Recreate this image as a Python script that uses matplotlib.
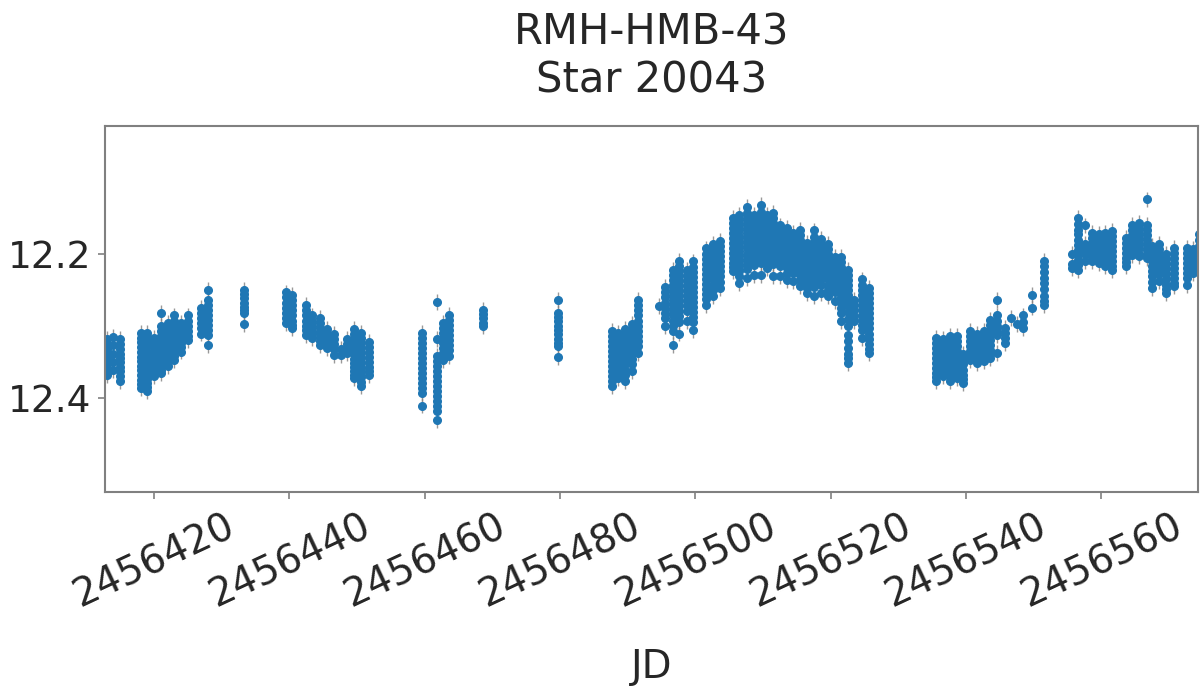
import matplotlib.pyplot as plt
import matplotlib.ticker as mticker
import numpy as np

# nightly photometry, one JD per night and the magnitudes taken that night
night_jd = [
    2456413.0, 2456414.0, 2456415.0, 2456418.0, 2456419.0, 2456420.0, 2456421.0,
    2456422.0, 2456423.0, 2456424.0, 2456425.0, 2456427.0, 2456428.0, 2456433.3,
    2456439.5, 2456440.4, 2456442.5, 2456443.4, 2456444.5, 2456445.6, 2456446.6,
    2456447.6, 2456448.5, 2456449.6, 2456450.6, 2456451.8,
    2456459.6, 2456461.8, 2456462.7, 2456463.6, 2456468.6, 2456479.7,
    2456487.7, 2456488.6, 2456489.6, 2456490.7, 2456491.6, 2456494.7, 2456495.5,
    2456496.7, 2456497.6, 2456498.7, 2456499.7, 2456501.6, 2456502.6, 2456503.7,
    2456505.6, 2456506.5, 2456507.7, 2456508.6, 2456509.7, 2456510.6, 2456511.5,
    2456512.5, 2456513.6, 2456514.5, 2456515.5, 2456516.5, 2456517.6, 2456518.6,
    2456519.6, 2456520.7, 2456521.6, 2456522.5, 2456523.5, 2456524.7, 2456525.6,
    2456535.6, 2456536.6, 2456537.7, 2456538.7, 2456539.6, 2456540.6, 2456541.7,
    2456542.6, 2456543.6, 2456544.6, 2456545.7, 2456546.6, 2456547.6, 2456548.5,
    2456549.7, 2456551.6, 2456555.6, 2456556.6, 2456557.6, 2456558.7, 2456559.6,
    2456560.6, 2456561.6, 2456563.6, 2456564.6, 2456565.6, 2456566.7, 2456567.5,
    2456568.6, 2456569.6, 2456570.7, 2456572.6, 2456573.6, 2456574.4,
]

night_mag = [
    [12.318, 12.324, 12.331, 12.336, 12.342, 12.347, 12.352, 12.358, 12.363, 12.368],
    [12.315, 12.326, 12.338, 12.349, 12.361],
    [12.318, 12.325, 12.331, 12.338, 12.344, 12.350, 12.356, 12.362, 12.369, 12.376],
    [12.309, 12.316, 12.322, 12.329, 12.335, 12.342, 12.348, 12.355, 12.361, 12.367, 12.374, 12.380, 12.386],
    [12.309, 12.315, 12.322, 12.328, 12.335, 12.341, 12.347, 12.354, 12.360, 12.367, 12.373, 12.379, 12.384, 12.390],
    [12.316, 12.323, 12.329, 12.336, 12.342, 12.349, 12.355, 12.362, 12.369],
    [12.281, 12.299, 12.306, 12.313, 12.320, 12.327, 12.334, 12.341, 12.348, 12.355, 12.360, 12.365],
    [12.295, 12.302, 12.309, 12.316, 12.323, 12.330, 12.337, 12.344, 12.350, 12.355],
    [12.285, 12.292, 12.299, 12.306, 12.313, 12.320, 12.327, 12.334, 12.341, 12.347],
    [12.295, 12.302, 12.309, 12.316, 12.323, 12.329, 12.335],
    [12.285, 12.292, 12.299, 12.306, 12.313, 12.319],
    [12.274, 12.281, 12.288, 12.295, 12.302, 12.310],
    [12.249, 12.263, 12.270, 12.277, 12.284, 12.291, 12.298, 12.305, 12.312, 12.326],
    [12.249, 12.255, 12.261, 12.267, 12.273, 12.278, 12.282, 12.297],
    [12.253, 12.260, 12.267, 12.274, 12.281, 12.288, 12.296],
    [12.257, 12.264, 12.271, 12.278, 12.285, 12.292, 12.298, 12.303],
    [12.271, 12.278, 12.285, 12.292, 12.299, 12.305, 12.312],
    [12.285, 12.292, 12.299, 12.306, 12.311, 12.316],
    [12.288, 12.295, 12.302, 12.309, 12.315, 12.321, 12.326],
    [12.304, 12.311, 12.318, 12.324, 12.330],
    [12.311, 12.318, 12.325, 12.332, 12.340],
    [12.332, 12.340],
    [12.318, 12.324, 12.331, 12.337],
    [12.304, 12.311, 12.318, 12.325, 12.332, 12.339, 12.345, 12.351, 12.357, 12.362, 12.367, 12.372],
    [12.309, 12.316, 12.323, 12.330, 12.337, 12.344, 12.351, 12.358, 12.364, 12.370, 12.377, 12.383],
    [12.322, 12.329, 12.336, 12.343, 12.350, 12.356, 12.362, 12.368],
    [12.309, 12.316, 12.323, 12.330, 12.337, 12.344, 12.351, 12.358, 12.365, 12.372, 12.379, 12.386, 12.393, 12.410],
    [12.266, 12.318, 12.341, 12.348, 12.355, 12.362, 12.369, 12.376, 12.383, 12.390, 12.397, 12.404, 12.411, 12.418, 12.430],
    [12.295, 12.302, 12.309, 12.316, 12.323, 12.330, 12.337, 12.347],
    [12.284, 12.291, 12.298, 12.305, 12.312, 12.319, 12.326, 12.333, 12.341],
    [12.277, 12.283, 12.289, 12.295, 12.300],
    [12.263, 12.281, 12.287, 12.293, 12.299, 12.305, 12.311, 12.317, 12.323, 12.328, 12.343],
    [12.306, 12.313, 12.320, 12.327, 12.334, 12.341, 12.348, 12.355, 12.362, 12.369, 12.376, 12.383],
    [12.309, 12.316, 12.323, 12.330, 12.337, 12.344, 12.351, 12.358, 12.365, 12.372],
    [12.304, 12.311, 12.318, 12.325, 12.332, 12.339, 12.346, 12.353, 12.360, 12.367, 12.376],
    [12.297, 12.304, 12.311, 12.318, 12.325, 12.332, 12.339, 12.346, 12.353, 12.362],
    [12.264, 12.271, 12.278, 12.285, 12.292, 12.299, 12.306, 12.313, 12.320, 12.327, 12.337],
    [12.272],
    [12.246, 12.253, 12.260, 12.267, 12.274, 12.281, 12.288, 12.300],
    [12.222, 12.229, 12.236, 12.243, 12.250, 12.257, 12.264, 12.271, 12.278, 12.285, 12.292, 12.299, 12.306, 12.326],
    [12.209, 12.216, 12.223, 12.230, 12.237, 12.244, 12.251, 12.258, 12.265, 12.272, 12.279, 12.286, 12.294, 12.310],
    [12.222, 12.229, 12.236, 12.243, 12.250, 12.257, 12.264, 12.271, 12.279, 12.293],
    [12.210, 12.217, 12.224, 12.231, 12.238, 12.245, 12.252, 12.259, 12.266, 12.273, 12.280, 12.287, 12.294, 12.305],
    [12.192, 12.199, 12.206, 12.213, 12.220, 12.227, 12.234, 12.241, 12.248, 12.255, 12.262, 12.271],
    [12.186, 12.193, 12.200, 12.207, 12.214, 12.221, 12.228, 12.235, 12.242, 12.250, 12.258],
    [12.181, 12.188, 12.195, 12.202, 12.209, 12.216, 12.223, 12.230, 12.238, 12.247],
    [12.149, 12.156, 12.163, 12.170, 12.177, 12.184, 12.191, 12.198, 12.205, 12.212, 12.218, 12.223],
    [12.146, 12.153, 12.160, 12.167, 12.174, 12.181, 12.188, 12.195, 12.202, 12.209, 12.216, 12.223, 12.230, 12.240],
    [12.135, 12.143, 12.150, 12.157, 12.164, 12.171, 12.178, 12.185, 12.192, 12.199, 12.206, 12.213, 12.220, 12.233],
    [12.145, 12.152, 12.159, 12.166, 12.173, 12.180, 12.187, 12.194, 12.201, 12.208, 12.215, 12.229],
    [12.132, 12.142, 12.149, 12.156, 12.163, 12.170, 12.177, 12.184, 12.191, 12.198, 12.205, 12.212, 12.229],
    [12.146, 12.153, 12.160, 12.167, 12.174, 12.181, 12.188, 12.195, 12.202, 12.209, 12.219],
    [12.143, 12.150, 12.157, 12.164, 12.171, 12.178, 12.185, 12.192, 12.199, 12.206, 12.213, 12.230],
    [12.160, 12.167, 12.174, 12.181, 12.188, 12.195, 12.202, 12.209, 12.216, 12.230],
    [12.163, 12.170, 12.177, 12.184, 12.191, 12.198, 12.205, 12.212, 12.219, 12.226, 12.236],
    [12.170, 12.177, 12.184, 12.191, 12.198, 12.205, 12.212, 12.219, 12.226, 12.237],
    [12.166, 12.173, 12.180, 12.187, 12.194, 12.201, 12.208, 12.215, 12.222, 12.229, 12.236, 12.244],
    [12.184, 12.191, 12.198, 12.205, 12.212, 12.219, 12.226, 12.233, 12.240, 12.247, 12.254],
    [12.167, 12.176, 12.183, 12.190, 12.197, 12.204, 12.211, 12.218, 12.225, 12.232, 12.239, 12.246, 12.258],
    [12.179, 12.186, 12.193, 12.200, 12.207, 12.214, 12.221, 12.228, 12.235, 12.242, 12.254],
    [12.186, 12.193, 12.200, 12.207, 12.214, 12.221, 12.228, 12.235, 12.242, 12.249, 12.258],
    [12.204, 12.211, 12.218, 12.225, 12.232, 12.239, 12.246, 12.253, 12.265],
    [12.204, 12.211, 12.218, 12.225, 12.232, 12.239, 12.246, 12.253, 12.260, 12.267, 12.274, 12.281, 12.293],
    [12.222, 12.229, 12.236, 12.243, 12.250, 12.257, 12.264, 12.271, 12.280, 12.290, 12.300, 12.312, 12.320, 12.330, 12.338, 12.344, 12.351],
    [12.263, 12.270, 12.278, 12.286, 12.293],
    [12.235, 12.242, 12.249, 12.256, 12.263, 12.270, 12.277, 12.284, 12.291, 12.298, 12.305, 12.316],
    [12.247, 12.254, 12.261, 12.268, 12.275, 12.282, 12.289, 12.296, 12.303, 12.310, 12.317, 12.324, 12.331, 12.337],
    [12.316, 12.323, 12.330, 12.337, 12.344, 12.351, 12.358, 12.365, 12.370, 12.376],
    [12.318, 12.325, 12.332, 12.339, 12.346, 12.353, 12.360, 12.365, 12.369],
    [12.313, 12.320, 12.327, 12.334, 12.341, 12.348, 12.355, 12.362, 12.369, 12.376],
    [12.313, 12.320, 12.327, 12.334, 12.341, 12.348, 12.355, 12.362, 12.367, 12.372],
    [12.339, 12.346, 12.353, 12.360, 12.367, 12.373, 12.379],
    [12.306, 12.313, 12.320, 12.327, 12.334, 12.341, 12.347],
    [12.311, 12.318, 12.325, 12.332, 12.339, 12.345, 12.351],
    [12.306, 12.313, 12.320, 12.327, 12.334, 12.341, 12.348],
    [12.291, 12.298, 12.305, 12.312, 12.319, 12.326, 12.333, 12.339, 12.344],
    [12.264, 12.285, 12.292, 12.299, 12.306, 12.312, 12.337],
    [12.302, 12.309, 12.316, 12.323],
    [12.288],
    [12.297],
    [12.285, 12.294, 12.303],
    [12.256, 12.274],
    [12.209, 12.216, 12.225, 12.233, 12.240, 12.248, 12.258, 12.265, 12.271],
    [12.200, 12.214, 12.219],
    [12.149, 12.158, 12.166, 12.172, 12.180, 12.187, 12.194, 12.201, 12.208, 12.215, 12.222],
    [12.160, 12.186, 12.193, 12.200, 12.210],
    [12.170, 12.177, 12.184, 12.191, 12.198, 12.204, 12.210],
    [12.172, 12.179, 12.186, 12.193, 12.200, 12.206, 12.212],
    [12.170, 12.177, 12.184, 12.191, 12.198, 12.205, 12.211, 12.216],
    [12.168, 12.175, 12.182, 12.189, 12.196, 12.203, 12.210, 12.216, 12.222],
    [12.177, 12.184, 12.191, 12.198, 12.205, 12.211, 12.216],
    [12.159, 12.166, 12.173, 12.180, 12.187, 12.194, 12.201],
    [12.157, 12.164, 12.171, 12.178, 12.185, 12.192, 12.199, 12.203],
    [12.124, 12.159, 12.166, 12.173, 12.180, 12.187, 12.194, 12.200, 12.205],
    [12.188, 12.195, 12.202, 12.209, 12.216, 12.223, 12.230, 12.238, 12.247],
    [12.186, 12.193, 12.200, 12.207, 12.214, 12.221, 12.228, 12.237],
    [12.200, 12.207, 12.214, 12.221, 12.228, 12.235, 12.242, 12.248, 12.254],
    [12.191, 12.198, 12.205, 12.212, 12.219, 12.226, 12.233, 12.240, 12.244],
    [12.191, 12.198, 12.205, 12.212, 12.219, 12.226, 12.233, 12.243],
    [12.193, 12.200, 12.207, 12.214, 12.220, 12.226],
    [12.172, 12.180, 12.188, 12.196, 12.204, 12.212, 12.219],
]

mag_err = 0.011

jd = []
mag = []
for t, ms in zip(night_jd, night_mag):
    for m in ms:
        jd.append(t)
        mag.append(m)
jd = np.array(jd)
mag = np.array(mag)

text_color = '#262626'
frame_color = '#808080'

fig = plt.figure(figsize=(12.02, 6.87), dpi=100)
ax = fig.add_axes([0.0874, 0.2838, 0.9093, 0.5328])

ax.errorbar(jd, mag, yerr=mag_err, fmt='none', ecolor='grey', elinewidth=1, alpha=0.8, zorder=1)
ax.plot(jd, mag, 'o', color='#1f77b4', markersize=5.5, zorder=2)

ax.set_xlim(2456412.76, 2456574.3)
ax.set_ylim(12.53, 12.022)
ax.xaxis.set_major_locator(mticker.MultipleLocator(20))
ax.xaxis.set_major_formatter(mticker.FormatStrFormatter('%d'))
ax.yaxis.set_major_locator(mticker.MultipleLocator(0.2))
ax.yaxis.set_major_formatter(mticker.FormatStrFormatter('%.1f'))

for s in ax.spines.values():
    s.set_color(frame_color)
    s.set_linewidth(1.5)
ax.tick_params(axis='both', colors=frame_color, labelcolor=text_color,
               length=5, width=1.2, pad=5)
ax.tick_params(axis='x', labelsize=28, pad=6)
ax.tick_params(axis='y', labelsize=27)
plt.setp(ax.get_xticklabels(), rotation=25)

ax.set_xlabel('JD', fontsize=28, color=text_color, labelpad=24)
ax.set_title('RMH-HMB-43\nStar 20043', fontsize=30, color=text_color, pad=24)

fig.savefig('out.png', dpi=100)
